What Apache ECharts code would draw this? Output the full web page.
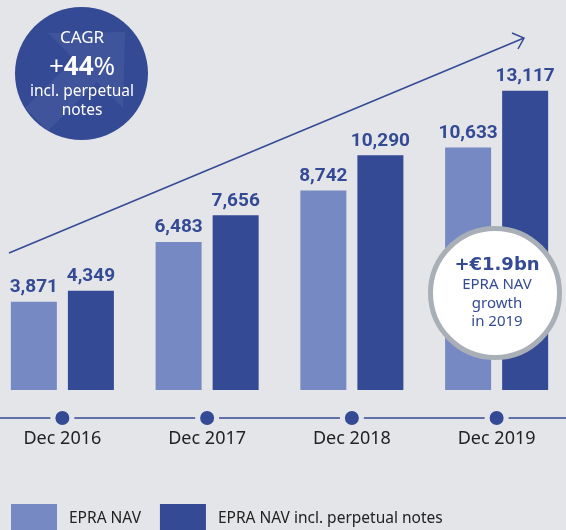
<!DOCTYPE html>
<html>
<head>
<meta charset="utf-8">
<script src="https://cdn.jsdelivr.net/npm/echarts@6/dist/echarts.min.js"></script>
<style>
html,body{margin:0;padding:0;background:#e4e5e9;}
#c{width:566px;height:530px;}
</style>
</head>
<body>
<div id="c"></div>
<script>
const categories = ['Dec 2016', 'Dec 2017', 'Dec 2018', 'Dec 2019'];
const epraNav = [3871, 6483, 8742, 10633];
const epraNavPerp = [4349, 7656, 10290, 13117];
const seriesNames = ['EPRA NAV', 'EPRA NAV incl. perpetual notes'];

const DARK = '#344a94';
const LIGHT = '#7789c2';
const BG = '#e4e5e9';
const Y_MIN = -1228;
const Y_MAX = 17098;

const chart = echarts.init(document.getElementById('c'), null, {renderer: 'canvas'});

const labelStyle = {
  show: true,
  position: 'top',
  distance: 5,
  fontFamily: 'Roboto',
  fontWeight: 'bold',
  fontSize: 19,
  color: DARK,
  formatter: p => p.value.toLocaleString('en-US')
};

chart.setOption({
  backgroundColor: BG,
  animation: false,
  grid: {left: -10, right: -3, top: 0, bottom: 112, outerBoundsMode: 'none', containLabel: false},
  legend: {
    data: seriesNames,
    icon: 'rect',
    itemWidth: 46,
    itemHeight: 29,
    left: 11,
    top: 504,
    itemGap: 19,
    padding: 0,
    textStyle: {fontFamily: 'Noto Sans', fontSize: 15.5, color: '#222', padding: [0, 0, 0, 7]}
  },
  xAxis: {
    type: 'category',
    data: categories,
    axisLine: {onZero: false, lineStyle: {color: DARK, width: 1.5}},
    axisTick: {show: false},
    axisLabel: {fontFamily: 'Noto Sans', fontSize: 18, color: '#222', margin: 12}
  },
  yAxis: {
    type: 'value', min: Y_MIN, max: Y_MAX, show: false, splitLine: {show: false}
  },
  series: [
    {
      name: seriesNames[0], type: 'bar', data: epraNav, barWidth: 46, barGap: '24%',
      itemStyle: {color: LIGHT}, label: labelStyle, z: 2
    },
    {
      name: seriesNames[1], type: 'bar', data: epraNavPerp, barWidth: 46, barGap: '24%',
      itemStyle: {color: DARK}, label: labelStyle, z: 2
    },
    {
      type: 'scatter', data: categories.map(() => Y_MIN), symbol: 'circle', symbolSize: 19,
      clip: false, silent: true, z: 3,
      itemStyle: {color: DARK, borderColor: BG, borderWidth: 5, opacity: 1}
    }
  ],
  graphic: [
    // trend arrow
    {type: 'polyline', shape: {points: [[9, 253], [524, 38]]}, style: {stroke: DARK, lineWidth: 1.5, fill: null}, z: 10},
    {type: 'polyline', shape: {points: [[512, 33], [524, 38], [518, 49]]}, style: {stroke: DARK, lineWidth: 1.5, fill: null}, z: 10},
    // CAGR circle
    {type: 'circle', shape: {cx: 81.5, cy: 73.5, r: 66.5}, style: {fill: DARK}, z: 20},
    {type: 'polygon', shape: {points: [[48, 33], [125, 32], [123, 108], [97, 82], [48, 131], [25, 108], [74, 59]]},
      style: {fill: 'rgba(255,255,255,0.06)'}, z: 21},
    {type: 'text', x: 82, y: 38, z: 22, style: {text: 'CAGR', fill: '#fff', font: '17px "Noto Sans"', align: 'center', verticalAlign: 'middle'}},
    {type: 'text', x: 82, y: 68, z: 22, style: {
      text: '{a|+}{b|44}{a|%}', align: 'center', verticalAlign: 'middle',
      rich: {
        a: {fill: '#fff', fontSize: 26, fontFamily: 'Noto Sans', color: '#fff'},
        b: {fill: '#fff', fontSize: 26, fontWeight: 'bold', fontFamily: 'Noto Sans', color: '#fff'}
      }}},
    {type: 'text', x: 82, y: 92, z: 22, style: {text: 'incl. perpetual', fill: '#fff', font: '15.5px "Noto Sans"', align: 'center', verticalAlign: 'middle'}},
    {type: 'text', x: 82, y: 111, z: 22, style: {text: 'notes', fill: '#fff', font: '15.5px "Noto Sans"', align: 'center', verticalAlign: 'middle'}},
    // growth circle
    {type: 'circle', shape: {cx: 495, cy: 293, r: 64.5}, style: {fill: '#fff', stroke: '#a9afb6', lineWidth: 5}, z: 20},
    {type: 'text', x: 497, y: 265, z: 22, style: {text: '+€1.9bn', fill: DARK, font: 'bold 18px "DejaVu Sans"', align: 'center', verticalAlign: 'middle'}},
    {type: 'text', x: 497, y: 285, z: 22, style: {text: 'EPRA NAV', fill: DARK, font: '15px "Noto Sans"', align: 'center', verticalAlign: 'middle'}},
    {type: 'text', x: 497, y: 304, z: 22, style: {text: 'growth', fill: DARK, font: '15px "Noto Sans"', align: 'center', verticalAlign: 'middle'}},
    {type: 'text', x: 497, y: 322, z: 22, style: {text: 'in 2019', fill: DARK, font: '15px "Noto Sans"', align: 'center', verticalAlign: 'middle'}}
  ]
});
</script>
</body>
</html>
